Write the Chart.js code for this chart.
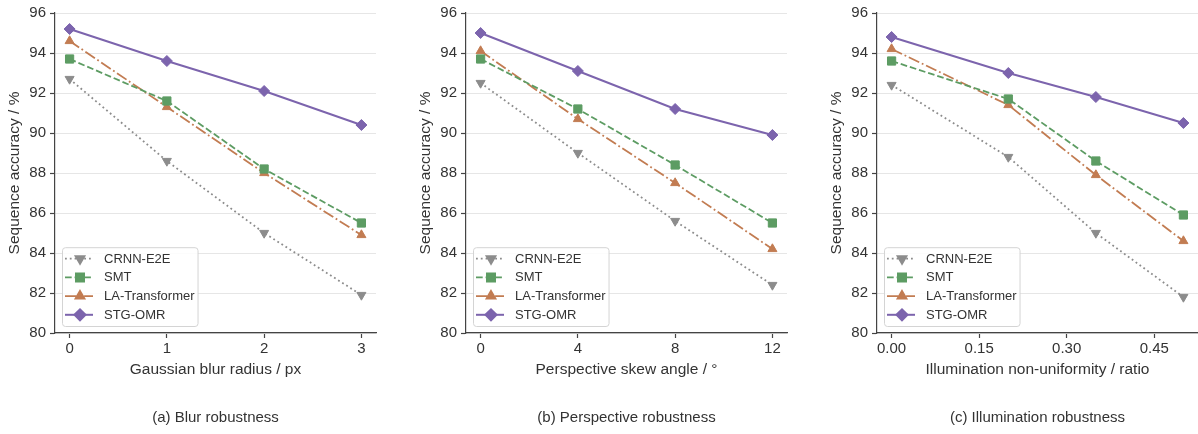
<!DOCTYPE html>
<html>
<head>
<meta charset="utf-8">
<script src="https://cdn.jsdelivr.net/npm/chart.js@4"></script>
<style>
  html, body { margin: 0; padding: 0; background: #fff; overflow: hidden; }
  #wrap { position: relative; width: 1198px; height: 434px; overflow: hidden; }
  canvas { position: absolute; top: 0; }
</style>
</head>
<body>
<div id="wrap">
  <canvas id="chartA" width="411" height="434" style="left:0px"></canvas>
  <canvas id="chartB" width="411" height="434" style="left:411px"></canvas>
  <canvas id="chartC" width="411" height="434" style="left:822px"></canvas>
</div>
<script>
// ---- data ----
var seriesNames = ['CRNN-E2E', 'SMT', 'LA-Transformer', 'STG-OMR'];

var blurX = [0, 1, 2, 3];
var blurCRNN = [92.7, 88.6, 85.0, 81.9];
var blurSMT = [93.7, 91.6, 88.2, 85.5];
var blurLA = [94.6, 91.3, 88.0, 84.9];
var blurSTG = [95.2, 93.6, 92.1, 90.4];
var blurTicks = ['0', '1', '2', '3'];
var blurTickValues = [0, 1, 2, 3];

var skewX = [0, 4, 8, 12];
var skewCRNN = [92.5, 89.0, 85.6, 82.4];
var skewSMT = [93.7, 91.2, 88.4, 85.5];
var skewLA = [94.1, 90.7, 87.5, 84.2];
var skewSTG = [95.0, 93.1, 91.2, 89.9];
var skewTicks = ['0', '4', '8', '12'];
var skewTickValues = [0, 4, 8, 12];

var illumX = [0, 0.2, 0.35, 0.5];
var illumCRNN = [92.4, 88.8, 85.0, 81.8];
var illumSMT = [93.6, 91.7, 88.6, 85.9];
var illumLA = [94.2, 91.4, 87.9, 84.6];
var illumSTG = [94.8, 93.0, 91.8, 90.5];
var illumTicks = ['0.00', '0.15', '0.30', '0.45'];
var illumTickValues = [0, 0.15, 0.30, 0.45];

var yTicks = [80, 82, 84, 86, 88, 90, 92, 94, 96];

// ---- styles ----
var FONT = 'Arial, "Liberation Sans", Helvetica, sans-serif';
var styles = [
  { color: '#8c8c8c', dash: [1.8, 3], width: 1.8, point: 'triangle', rot: 180, r: 5.2 },
  { color: '#5d9c63', dash: [6.7, 2.9], width: 1.8, point: 'rect', rot: 0, r: 5.8 },
  { color: '#c27c52', dash: [11.5, 2.9, 1.8, 2.9], width: 1.8, point: 'triangle', rot: 0, r: 5.2 },
  { color: '#7c64ad', dash: [], width: 2, point: 'rectRot', rot: 0, r: 5.5 }
];

function toPoints(xs, ys) {
  var pts = [];
  for (var i = 0; i < xs.length; i++) {
    pts.push({ x: xs[i], y: ys[i] });
  }
  return pts;
}

// legend with line samples and a caption under each panel
var legendPlugin = {
  id: 'lineLegend',
  afterDraw: function (chart) {
    var ctx = chart.ctx;
    var area = chart.chartArea;
    var rowH = 18.7;
    ctx.save();
    ctx.font = '13px ' + FONT;
    var maxW = 0;
    chart.data.datasets.forEach(function (ds) {
      maxW = Math.max(maxW, ctx.measureText(ds.label).width);
    });
    var boxW = 42 + maxW + 3;
    var boxH = rowH * 4 + 4;
    var bx = area.left + 7;
    var by = area.bottom - 7 - boxH;

    ctx.fillStyle = 'rgba(255,255,255,0.85)';
    ctx.strokeStyle = '#d4d4d4';
    ctx.lineWidth = 1;
    ctx.beginPath();
    ctx.roundRect(bx + 0.5, by + 0.5, boxW, boxH, 3);
    ctx.fill();
    ctx.stroke();

    chart.data.datasets.forEach(function (ds, i) {
      var st = styles[i];
      var cy = by + 11.5 + i * rowH;
      ctx.strokeStyle = st.color;
      ctx.lineWidth = st.width;
      ctx.setLineDash(st.dash);
      ctx.beginPath();
      ctx.moveTo(bx + 3, cy);
      ctx.lineTo(bx + 31, cy);
      ctx.stroke();
      ctx.setLineDash([]);
      ctx.fillStyle = st.color;
      Chart.helpers.drawPoint(ctx, {
        pointStyle: st.point, rotation: st.rot, radius: st.r, borderWidth: 1
      }, bx + 18, cy);
      ctx.fillStyle = '#333';
      ctx.textBaseline = 'middle';
      ctx.textAlign = 'left';
      ctx.fillText(ds.label, bx + 42, cy + 0.5);
    });

    var caption = chart.options.plugins.lineLegend.caption;
    ctx.font = '15px ' + FONT;
    ctx.fillStyle = '#333';
    ctx.textAlign = 'center';
    ctx.textBaseline = 'middle';
    ctx.fillText(caption, (area.left + area.right) / 2, 418);
    ctx.restore();
  }
};

function makeChart(id, xs, series, xMin, xMax, tickValues, tickLabels, xTitle, caption) {
  var datasets = series.map(function (ys, i) {
    var st = styles[i];
    return {
      label: seriesNames[i],
      data: toPoints(xs, ys),
      borderColor: st.color,
      backgroundColor: st.color,
      borderWidth: st.width,
      borderDash: st.dash,
      pointStyle: st.point,
      rotation: st.rot,
      pointRadius: st.r,
      pointBorderWidth: 1,
      pointBorderColor: st.color,
      pointBackgroundColor: st.color,
      tension: 0
    };
  });

  return new Chart(document.getElementById(id), {
    type: 'line',
    data: { datasets: datasets },
    options: {
      responsive: false,
      animation: false,
      layout: { padding: { top: 10, right: 35, left: 0, bottom: 53 } },
      plugins: {
        legend: { display: false },
        tooltip: { enabled: false },
        lineLegend: { caption: caption }
      },
      scales: {
        x: {
          type: 'linear',
          min: xMin,
          max: xMax,
          afterFit: function (scale) { scale.height = 48; },
          afterBuildTicks: function (scale) {
            scale.ticks = tickValues.map(function (v) { return { value: v }; });
          },
          ticks: {
            color: '#333',
            font: { size: 15, family: FONT },
            padding: 2,
            maxRotation: 0,
            callback: function (v) {
              var k = tickValues.indexOf(v);
              return k >= 0 ? tickLabels[k] : '';
            }
          },
          grid: { drawOnChartArea: false, tickLength: 5, tickColor: '#444', tickWidth: 1.2 },
          border: { display: true, color: '#444', width: 1.2 },
          title: {
            display: true, text: xTitle, color: '#333',
            font: { size: 15.5, family: FONT }, padding: { top: 0, bottom: 2 }
          }
        },
        y: {
          type: 'linear',
          min: 80,
          max: 96,
          afterFit: function (scale) { scale.width = 55; },
          afterBuildTicks: function (scale) {
            scale.ticks = yTicks.map(function (v) { return { value: v }; });
          },
          ticks: {
            color: '#333',
            font: { size: 15, family: FONT },
            padding: 4
          },
          grid: { color: '#e6e6e6', lineWidth: 1, tickLength: 5, tickColor: '#444', tickWidth: 1.2 },
          border: { display: true, color: '#444', width: 1.2 },
          title: {
            display: true, text: 'Sequence accuracy / %', color: '#333',
            font: { size: 15.5, family: FONT }, padding: { top: 5.5, bottom: 0 }
          }
        }
      }
    },
    plugins: [legendPlugin]
  });
}

makeChart('chartA', blurX, [blurCRNN, blurSMT, blurLA, blurSTG], -0.15, 3.15,
  blurTickValues, blurTicks, 'Gaussian blur radius / px', '(a) Blur robustness');
makeChart('chartB', skewX, [skewCRNN, skewSMT, skewLA, skewSTG], -0.6, 12.6,
  skewTickValues, skewTicks, 'Perspective skew angle / \u00b0', '(b) Perspective robustness');
makeChart('chartC', illumX, [illumCRNN, illumSMT, illumLA, illumSTG], -0.025, 0.525,
  illumTickValues, illumTicks, 'Illumination non-uniformity / ratio', '(c) Illumination robustness');
</script>
</body>
</html>
